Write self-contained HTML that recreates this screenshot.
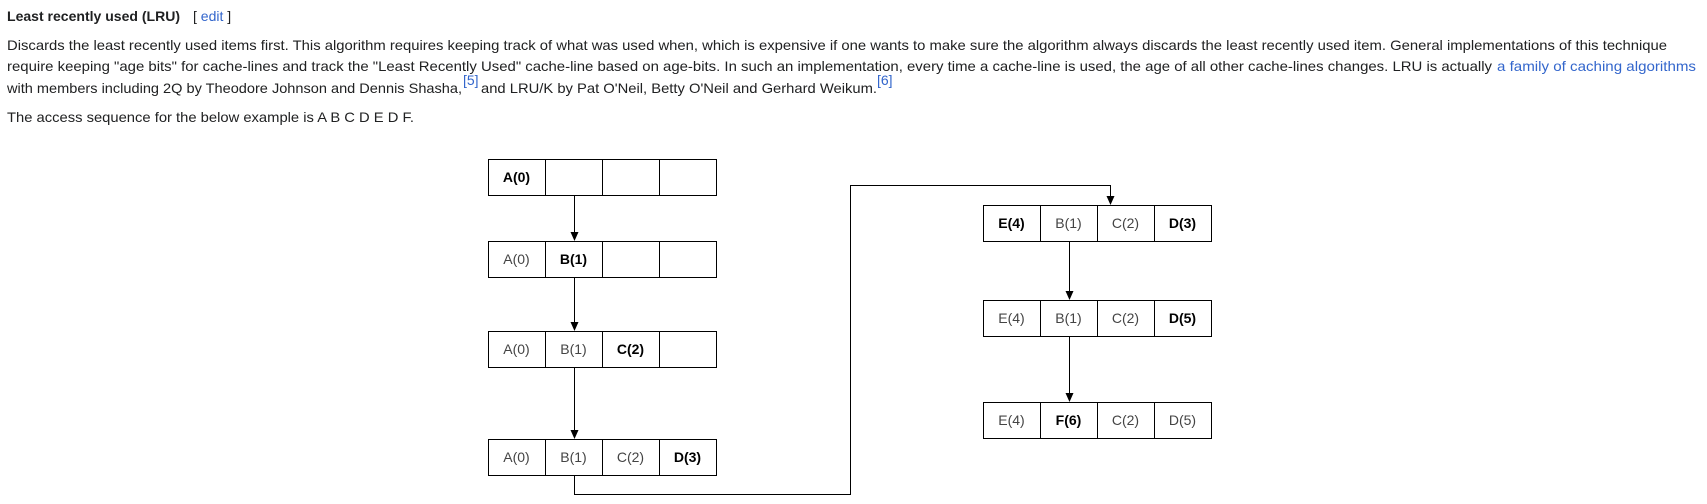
<!DOCTYPE html>
<html><head><meta charset="utf-8"><style>
html,body{margin:0;padding:0;background:#fff;overflow:hidden;}
svg{display:block;font-family:"Liberation Sans",sans-serif;}
.t{font-size:14px;fill:#202122;}
.l{fill:#3366cc;}
.c{font-size:14px;fill:#444;text-anchor:middle;}
.b{font-weight:bold;fill:#000;}
</style></head><body>
<svg width="1707" height="504" viewBox="0 0 1707 504">
<text x="7" y="21" class="t" font-weight="bold" textLength="173" lengthAdjust="spacingAndGlyphs">Least recently used (LRU)</text>
<text x="193" y="21" class="t" font-size="12" fill="#72777d">[ <tspan class="l">edit</tspan> ]</text>
<text x="7" y="50" class="t" textLength="1660" lengthAdjust="spacingAndGlyphs">Discards the least recently used items first. This algorithm requires keeping track of what was used when, which is expensive if one wants to make sure the algorithm always discards the least recently used item. General implementations of this technique</text>
<text x="7" y="71" class="t" textLength="1485" lengthAdjust="spacingAndGlyphs">require keeping "age bits" for cache-lines and track the "Least Recently Used" cache-line based on age-bits. In such an implementation, every time a cache-line is used, the age of all other cache-lines changes. LRU is actually</text>
<text x="1497" y="71" class="t l" textLength="199" lengthAdjust="spacingAndGlyphs">a family of caching algorithms</text>
<text x="7" y="93" class="t" textLength="455" lengthAdjust="spacingAndGlyphs">with members including 2Q by Theodore Johnson and Dennis Shasha,</text>
<text x="463" y="85" class="t l" font-size="11">[5]</text>
<text x="481" y="93" class="t" textLength="396" lengthAdjust="spacingAndGlyphs">and LRU/K by Pat O'Neil, Betty O'Neil and Gerhard Weikum.</text>
<text x="877" y="85" class="t l" font-size="11">[6]</text>
<text x="7" y="122" class="t" textLength="407" lengthAdjust="spacingAndGlyphs">The access sequence for the below example is A B C D E D F.</text>
<g id="diag" stroke="#000" fill="none" stroke-width="1"></g>
</svg>
<script>
const rowsL=[["A(0)","","",""],["A(0)","B(1)","",""],["A(0)","B(1)","C(2)",""],["A(0)","B(1)","C(2)","D(3)"]];
const boldL=[0,1,2,3];
const rowsR=[["E(4)","B(1)","C(2)","D(3)"],["E(4)","B(1)","C(2)","D(5)"],["E(4)","F(6)","C(2)","D(5)"]];
const boldR=[[0,3],[3],[1]];
const svg=document.querySelector('svg'),g=document.getElementById('diag');
const NS='http://www.w3.org/2000/svg';
function mk(t,a,p){const e=document.createElementNS(NS,t);for(const k in a)e.setAttribute(k,a[k]);(p||g).appendChild(e);return e;}
const cw=57,ch=36;
function row(x,y,vals,bold){
  for(let i=0;i<4;i++){
    const r=mk('rect',{x:x+i*cw+0.5,y:y+0.5,width:cw,height:ch});
    
    
    if(vals[i]){const t=mk('text',{x:x+i*cw+cw/2,y:y+ch/2+5,class:'c'+(bold.includes(i)?' b':''),stroke:'none'},svg);t.textContent=vals[i];
    
    }
  }
}
function head(x,y){const h=mk('path',{d:`M${x-4},${y-9} L${x+4},${y-9} L${x},${y} Z`,fill:'#000',stroke:'none'});

}
const yL=[159,241,331,439],yR=[205,300,402];
rowsL.forEach((r,i)=>row(488,yL[i],r,[boldL[i]]));
rowsR.forEach((r,i)=>row(983,yR[i],r,boldR[i]));
for(let i=0;i<3;i++){const l=mk('line',{x1:574.5,y1:yL[i]+ch,x2:574.5,y2:yL[i+1]-6});head(574.5,yL[i+1]);}
for(let i=0;i<2;i++){const l=mk('line',{x1:1069.5,y1:yR[i]+ch,x2:1069.5,y2:yR[i+1]-6});head(1069.5,yR[i+1]);}
const p=mk('polyline',{points:`574.5,475 574.5,494.5 850.5,494.5 850.5,185.5 1110.5,185.5 1110.5,199`});


head(1110.5,205);
</script>
</body></html>
